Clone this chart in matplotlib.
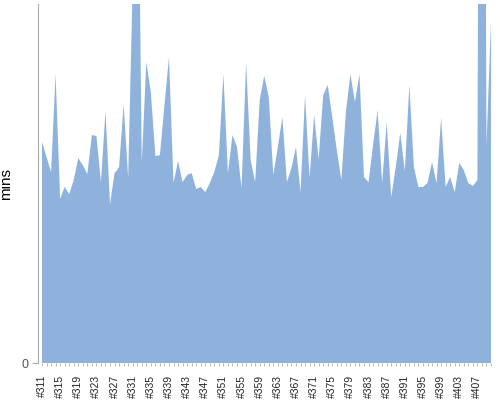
import matplotlib
matplotlib.use('Agg')
import matplotlib.pyplot as plt
import numpy as np

plt.rcParams['font.family'] = ['Liberation Sans', 'DejaVu Sans']

# build numbers #311 .. #410
builds = [f'#{n}' for n in range(311, 411)]

# duration in minutes per build
mins = [
    73.7, 68.7, 63.7, 96.3, 54.7, 58.7, 56.3, 61.0, 68.3, 66.0,
    63.0, 76.0, 75.7, 60.3, 84.0, 53.0, 63.3, 65.3, 86.3, 61.7,
    126.7, 206.7, 66.7, 100.3, 90.3, 69.0, 69.3, 86.0, 102.0, 60.0,
    67.3, 60.3, 62.7, 63.3, 58.0, 58.7, 57.0, 60.0, 63.7, 69.3,
    96.3, 63.3, 76.0, 72.0, 58.3, 100.3, 67.7, 60.3, 87.7, 95.7,
    88.7, 62.7, 72.0, 82.0, 60.3, 65.0, 72.0, 57.0, 89.3, 61.7,
    82.7, 68.0, 89.3, 92.7, 82.0, 71.0, 61.0, 83.7, 96.3, 87.0,
    96.3, 62.0, 60.3, 72.7, 84.3, 60.0, 80.3, 55.3, 65.3, 76.7,
    64.0, 92.7, 65.3, 58.7, 58.7, 60.0, 67.0, 60.0, 81.7, 58.7,
    62.0, 57.0, 66.7, 64.3, 60.0, 59.0, 61.0, 500.0, 72.7, 113.7,
]

x = np.arange(len(builds))

fig = plt.figure(figsize=(5, 4), dpi=100)
ax = fig.add_axes([38 / 500, 1 - 363 / 400, (491 - 38) / 500, (363 - 4) / 400])

ax.fill_between(x, 0, mins, color='#8fb2dc', linewidth=0)

ax.set_xlim(-0.88, len(builds) - 1)
ax.set_ylim(0, 119.7)

ax.set_xticks(x)
ax.set_xticklabels([b if i % 4 == 0 else '' for i, b in enumerate(builds)],
                   rotation=90, fontsize=7.5, color='#222222')
ax.tick_params(axis='x', length=2.5, width=0.6, color='#aaaaaa', pad=6)

ax.set_yticks([0])
ax.set_yticklabels(['0'], fontsize=9, color='#555555')
ax.tick_params(axis='y', length=4, width=0.8, color='#aaaaaa', pad=3)
ax.set_ylabel('mins', fontsize=11)
ax.yaxis.set_label_coords(-0.055, 0.5)

for side in ['top', 'right', 'bottom']:
    ax.spines[side].set_visible(False)
ax.spines['left'].set_color('#aaaaaa')
ax.spines['left'].set_linewidth(0.8)

fig.savefig('out.png', dpi=100)
plt.close(fig)
